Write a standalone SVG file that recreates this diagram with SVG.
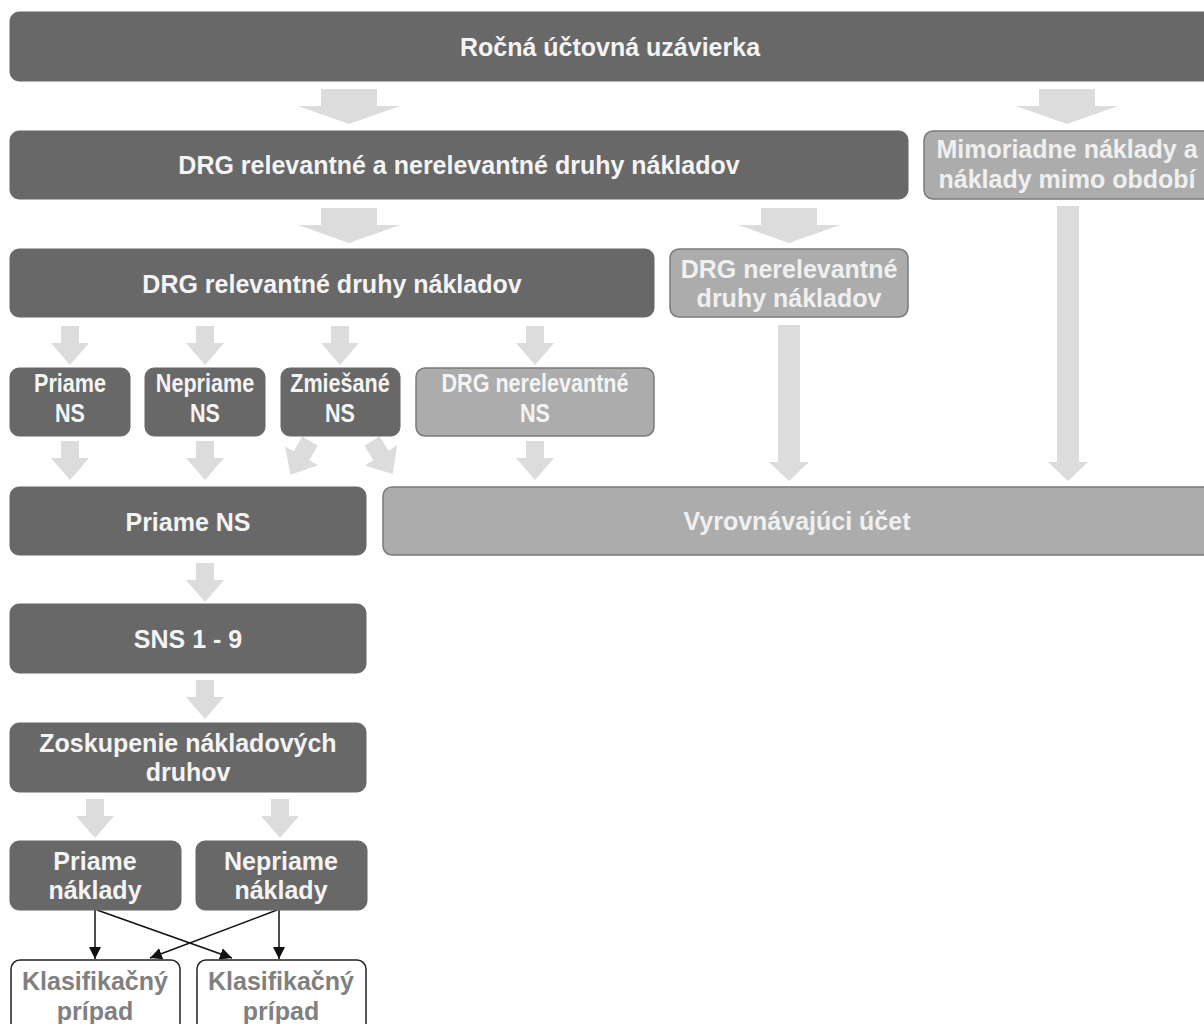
<svg xmlns="http://www.w3.org/2000/svg" width="1204" height="1024" viewBox="0 0 1204 1024">
<style>
.dk{fill:#686868;stroke:#666;stroke-width:1}
.lt{fill:#acacac;stroke:#7a7a7a;stroke-width:1.5}
.wh{fill:#fff;stroke:#222;stroke-width:1.5}
.t{font-family:"Liberation Sans",Arial,sans-serif;font-weight:bold;font-size:25px;text-anchor:middle;fill:#f4f4f4}
.tl{fill:#f0f0f0}
.tg{fill:#808080}
.c{font-family:"Liberation Sans",Arial,sans-serif;font-weight:bold;font-size:26px;text-anchor:middle;fill:#f4f4f4}
.ga{fill:#dcdcdc}
.ln{stroke:#111;stroke-width:1.5;fill:none;marker-end:url(#ah)}
</style>
<defs>
<marker id="ah" viewBox="0 0 10 10" refX="10" refY="5" markerWidth="12" markerHeight="12" markerUnits="userSpaceOnUse" orient="auto">
<path d="M0,0 L10,5 L0,10 z" fill="#111"/>
</marker>
<path id="big" d="M-28,0 H28 V17 H51 L0,35 L-51,17 H-28 Z"/>
<path id="sm" d="M-9,0 H9 V17 H19 L0,39 L-19,17 H-9 Z"/>
</defs>

<g id="connectors">
<use href="#big" class="ga" transform="translate(349,89)"/>
<use href="#big" class="ga" transform="translate(1067,89)"/>
<use href="#big" class="ga" transform="translate(349,208)"/>
<use href="#big" class="ga" transform="translate(789,208)"/>
<path class="ga" d="M778,325 H800 V462 H809 L789,481 L769,462 H778 Z"/>
<path class="ga" d="M1057,206 H1079 V462 H1088 L1068,481 L1048,462 H1057 Z"/>
<use href="#sm" class="ga" transform="translate(70,326)"/>
<use href="#sm" class="ga" transform="translate(205,326)"/>
<use href="#sm" class="ga" transform="translate(340,326)"/>
<use href="#sm" class="ga" transform="translate(535,326)"/>
<use href="#sm" class="ga" transform="translate(70,441)"/>
<use href="#sm" class="ga" transform="translate(205,441)"/>
<use href="#sm" class="ga" transform="translate(310,441) rotate(30)"/>
<use href="#sm" class="ga" transform="translate(372,441) rotate(-32)"/>
<use href="#sm" class="ga" transform="translate(535,441)"/>
<use href="#sm" class="ga" transform="translate(205,563)"/>
<use href="#sm" class="ga" transform="translate(205,680)"/>
<use href="#sm" class="ga" transform="translate(95,799)"/>
<use href="#sm" class="ga" transform="translate(280,799)"/>
<line class="ln" x1="95" y1="910" x2="95" y2="959"/>
<line class="ln" x1="279" y1="910" x2="279" y2="959"/>
<line class="ln" x1="97" y1="910" x2="232" y2="958"/>
<line class="ln" x1="277" y1="910" x2="150" y2="958"/>
</g>

<g id="n-rocna">
<rect class="dk" x="10" y="12" width="1210" height="69" rx="9"/>
<text class="t" x="610" y="56">Ročná účtovná uzávierka</text>
</g>
<g id="n-drg-all">
<rect class="dk" x="10" y="131" width="898" height="68" rx="9"/>
<text class="t" x="459" y="174">DRG relevantné a nerelevantné druhy nákladov</text>
</g>
<g id="n-mimoriadne">
<rect class="lt" x="924" y="131" width="300" height="68" rx="9"/>
<text class="t tl" x="1067" y="158">Mimoriadne náklady a</text>
<text class="t tl" x="1067" y="188">náklady mimo období</text>
</g>
<g id="n-drg-rel">
<rect class="dk" x="10" y="249" width="644" height="68" rx="9"/>
<text class="t" x="332" y="293">DRG relevantné druhy nákladov</text>
</g>
<g id="n-drg-nerel">
<rect class="lt" x="670" y="249" width="238" height="68" rx="9"/>
<text class="t tl" x="789" y="278">DRG nerelevantné</text>
<text class="t tl" x="789" y="307">druhy nákladov</text>
</g>
<g id="n-priame-ns-s">
<rect class="dk" x="10" y="368" width="120" height="68" rx="9"/>
<text class="c" transform="translate(70,392) scale(0.83,1)">Priame</text>
<text class="c" transform="translate(70,422) scale(0.83,1)">NS</text>
</g>
<g id="n-nepriame-ns">
<rect class="dk" x="145" y="368" width="120" height="68" rx="9"/>
<text class="c" transform="translate(205,392) scale(0.83,1)">Nepriame</text>
<text class="c" transform="translate(205,422) scale(0.83,1)">NS</text>
</g>
<g id="n-zmiesane-ns">
<rect class="dk" x="281" y="368" width="119" height="68" rx="9"/>
<text class="c" transform="translate(340,392) scale(0.83,1)">Zmiešané</text>
<text class="c" transform="translate(340,422) scale(0.83,1)">NS</text>
</g>
<g id="n-drg-nerel-ns">
<rect class="lt" x="416" y="368" width="238" height="68" rx="9"/>
<text class="c tl" transform="translate(535,392) scale(0.83,1)">DRG nerelevantné</text>
<text class="c tl" transform="translate(535,422) scale(0.83,1)">NS</text>
</g>
<g id="n-priame-ns">
<rect class="dk" x="10" y="487" width="356" height="68" rx="9"/>
<text class="t" x="188" y="531">Priame NS</text>
</g>
<g id="n-vyrovnavajuci">
<rect class="lt" x="383" y="487" width="840" height="68" rx="9"/>
<text class="t tl" x="797" y="530">Vyrovnávajúci účet</text>
</g>
<g id="n-sns">
<rect class="dk" x="10" y="604" width="356" height="69" rx="9"/>
<text class="t" x="188" y="648">SNS 1 - 9</text>
</g>
<g id="n-zoskupenie">
<rect class="dk" x="10" y="723" width="356" height="69" rx="9"/>
<text class="t" x="188" y="752">Zoskupenie nákladových</text>
<text class="t" x="188" y="781">druhov</text>
</g>
<g id="n-priame-naklady">
<rect class="dk" x="10" y="841" width="171" height="69" rx="9"/>
<text class="t" x="95" y="870">Priame</text>
<text class="t" x="95" y="899">náklady</text>
</g>
<g id="n-nepriame-naklady">
<rect class="dk" x="196" y="841" width="171" height="69" rx="9"/>
<text class="t" x="281" y="870">Nepriame</text>
<text class="t" x="281" y="899">náklady</text>
</g>
<g id="n-klas1">
<rect class="wh" x="11" y="960" width="169" height="80" rx="9"/>
<text class="t tg" x="95" y="990">Klasifikačný</text>
<text class="t tg" x="95" y="1020">prípad</text>
</g>
<g id="n-klas2">
<rect class="wh" x="197" y="960" width="169" height="80" rx="9"/>
<text class="t tg" x="281" y="990">Klasifikačný</text>
<text class="t tg" x="281" y="1020">prípad</text>
</g>
</svg>
